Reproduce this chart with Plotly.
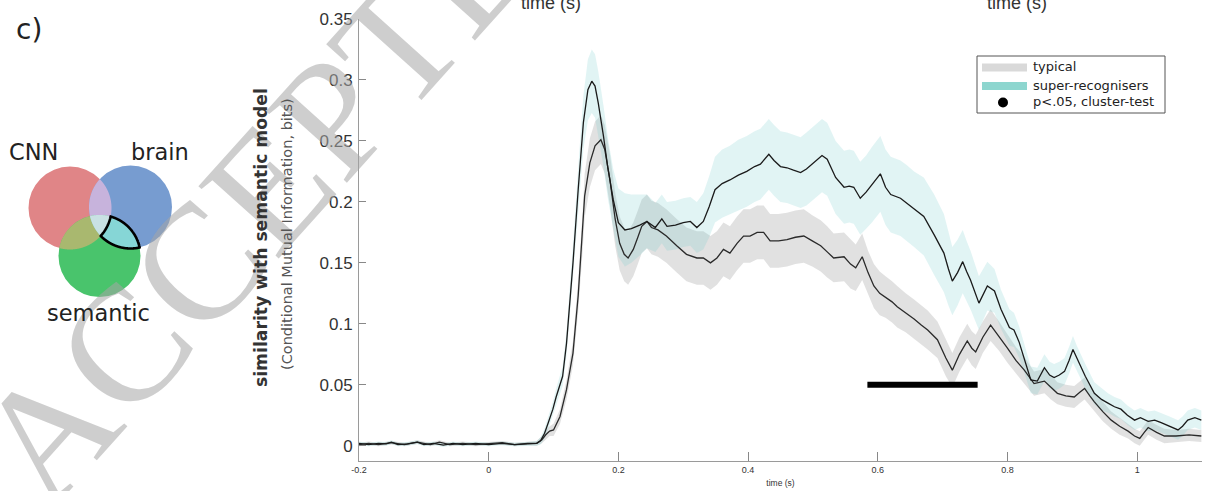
import numpy as np
import plotly.graph_objects as go

# ---------------- data ----------------
sr_time = [-0.200, -0.185, -0.170, -0.158, -0.150, -0.140, -0.125, -0.110, -0.100, -0.085,
           -0.070, -0.055, -0.040, -0.020, 0.000, 0.020, 0.040, 0.060, 0.074, 0.080,
           0.086, 0.092, 0.099, 0.104, 0.114, 0.120, 0.125, 0.130, 0.138, 0.146,
           0.153, 0.159, 0.164, 0.169, 0.177, 0.184, 0.192, 0.200, 0.210, 0.220,
           0.233, 0.244, 0.257, 0.267, 0.275, 0.288, 0.300, 0.311, 0.321, 0.331,
           0.340, 0.349, 0.360, 0.372, 0.385, 0.398, 0.410, 0.419, 0.432, 0.440,
           0.450, 0.460, 0.470, 0.481, 0.490, 0.501, 0.514, 0.522, 0.535, 0.548,
           0.556, 0.563, 0.573, 0.582, 0.591, 0.604, 0.612, 0.620, 0.635, 0.645,
           0.656, 0.671, 0.687, 0.702, 0.709, 0.715, 0.723, 0.731, 0.737, 0.743,
           0.756, 0.769, 0.780, 0.790, 0.803, 0.810, 0.818, 0.826, 0.836, 0.846,
           0.857, 0.865, 0.872, 0.880, 0.888, 0.895, 0.901, 0.907, 0.913, 0.920,
           0.934, 0.945, 0.955, 0.965, 0.975, 0.985, 0.996, 1.005, 1.017, 1.027,
           1.037, 1.050, 1.063, 1.070, 1.078, 1.089, 1.099]
sr_mean = [0.0020, 0.0010, 0.0020, 0.0015, 0.0030, 0.0010, 0.0015, 0.0030, 0.0010, 0.0020,
           0.0005, 0.0020, 0.0010, 0.0020, 0.0010, 0.0020, 0.0010, 0.0015, 0.0020, 0.0040,
           0.0100, 0.0190, 0.0300, 0.0400, 0.0570, 0.0840, 0.1150, 0.1500, 0.2100, 0.2650,
           0.2920, 0.2990, 0.2950, 0.2810, 0.2540, 0.2270, 0.2020, 0.1830, 0.1770, 0.1780,
           0.1810, 0.1840, 0.1790, 0.1860, 0.1800, 0.1810, 0.1830, 0.1840, 0.1790, 0.1840,
           0.1960, 0.2100, 0.2150, 0.2180, 0.2220, 0.2250, 0.2290, 0.2310, 0.2390, 0.2340,
           0.2290, 0.2280, 0.2260, 0.2240, 0.2270, 0.2320, 0.2380, 0.2350, 0.2200, 0.2120,
           0.2130, 0.2120, 0.2030, 0.2080, 0.2140, 0.2230, 0.2120, 0.2060, 0.2030, 0.1990,
           0.1940, 0.1880, 0.1730, 0.1580, 0.1450, 0.1350, 0.1420, 0.1510, 0.1430, 0.1360,
           0.1170, 0.1310, 0.1270, 0.1120, 0.0970, 0.0950, 0.0850, 0.0720, 0.0540, 0.0530,
           0.0640, 0.0580, 0.0560, 0.0580, 0.0610, 0.0700, 0.0790, 0.0720, 0.0650, 0.0570,
           0.0430, 0.0380, 0.0350, 0.0320, 0.0300, 0.0250, 0.0210, 0.0230, 0.0200, 0.0210,
           0.0190, 0.0160, 0.0130, 0.0160, 0.0210, 0.0230, 0.0210]
sr_sem = [0.0015, 0.0015, 0.0015, 0.0015, 0.0015, 0.0015, 0.0015, 0.0015, 0.0015, 0.0015,
          0.0015, 0.0015, 0.0015, 0.0015, 0.0015, 0.0015, 0.0015, 0.0015, 0.002, 0.003,
          0.004, 0.005, 0.006, 0.007, 0.008, 0.010, 0.012, 0.015, 0.018, 0.022,
          0.025, 0.026, 0.026, 0.026, 0.025, 0.025, 0.025, 0.028, 0.030, 0.028,
          0.025, 0.022, 0.020, 0.020, 0.020, 0.020, 0.020, 0.020, 0.021, 0.023,
          0.025, 0.027, 0.028, 0.028, 0.029, 0.029, 0.029, 0.029, 0.029, 0.029,
          0.029, 0.029, 0.029, 0.029, 0.030, 0.030, 0.030, 0.030, 0.030, 0.030,
          0.030, 0.030, 0.030, 0.030, 0.031, 0.031, 0.031, 0.031, 0.031, 0.031,
          0.031, 0.032, 0.033, 0.032, 0.030, 0.028, 0.027, 0.026, 0.025, 0.024,
          0.022, 0.020, 0.018, 0.016, 0.015, 0.014, 0.013, 0.012, 0.011, 0.011,
          0.011, 0.011, 0.011, 0.011, 0.011, 0.011, 0.011, 0.010, 0.010, 0.010,
          0.009, 0.009, 0.008, 0.008, 0.008, 0.008, 0.008, 0.008, 0.008, 0.008,
          0.008, 0.008, 0.008, 0.008, 0.008, 0.008, 0.008]

typ_time = [-0.200, -0.185, -0.170, -0.150, -0.130, -0.110, -0.090, -0.076, -0.060, -0.040,
            -0.020, 0.000, 0.021, 0.040, 0.060, 0.074, 0.082, 0.088, 0.094, 0.100,
            0.110, 0.120, 0.130, 0.138, 0.145, 0.148, 0.156, 0.164, 0.173, 0.179,
            0.187, 0.195, 0.202, 0.209, 0.215, 0.223, 0.230, 0.236, 0.244, 0.251,
            0.261, 0.274, 0.290, 0.305, 0.321, 0.331, 0.342, 0.352, 0.362, 0.372,
            0.383, 0.393, 0.403, 0.414, 0.424, 0.434, 0.447, 0.460, 0.473, 0.486,
            0.499, 0.512, 0.522, 0.532, 0.548, 0.558, 0.566, 0.576, 0.585, 0.594,
            0.603, 0.612, 0.622, 0.630, 0.643, 0.656, 0.667, 0.677, 0.692, 0.705,
            0.715, 0.726, 0.738, 0.745, 0.751, 0.762, 0.774, 0.787, 0.800, 0.813,
            0.826, 0.841, 0.857, 0.867, 0.877, 0.890, 0.903, 0.912, 0.919, 0.927,
            0.934, 0.947, 0.960, 0.973, 0.986, 0.996, 1.004, 1.011, 1.017, 1.030,
            1.042, 1.060, 1.080, 1.099]
typ_mean = [0.0010, 0.0020, 0.0010, 0.0025, 0.0010, 0.0030, 0.0010, 0.0030, 0.0010, 0.0020,
            0.0010, 0.0020, 0.0025, 0.0010, 0.0020, 0.0020, 0.0050, 0.0090, 0.0120, 0.0130,
            0.0240, 0.0460, 0.0760, 0.1230, 0.1770, 0.2050, 0.2320, 0.2460, 0.2510, 0.2430,
            0.2180, 0.1860, 0.1660, 0.1570, 0.1540, 0.1610, 0.1710, 0.1800, 0.1840, 0.1790,
            0.1770, 0.1720, 0.1640, 0.1570, 0.1540, 0.1540, 0.1500, 0.1540, 0.1610, 0.1580,
            0.1660, 0.1720, 0.1720, 0.1750, 0.1750, 0.1680, 0.1680, 0.1690, 0.1710, 0.1720,
            0.1680, 0.1640, 0.1590, 0.1540, 0.1550, 0.1490, 0.1460, 0.1550, 0.1420, 0.1310,
            0.1250, 0.1220, 0.1180, 0.1140, 0.1090, 0.1040, 0.0990, 0.0950, 0.0870, 0.0720,
            0.0620, 0.0750, 0.0860, 0.0800, 0.0770, 0.0890, 0.0990, 0.0900, 0.0800, 0.0700,
            0.0620, 0.0510, 0.0530, 0.0480, 0.0430, 0.0410, 0.0400, 0.0440, 0.0470, 0.0410,
            0.0360, 0.0280, 0.0210, 0.0160, 0.0120, 0.0080, 0.0060, 0.0110, 0.0150, 0.0110,
            0.0080, 0.0080, 0.0090, 0.0080]
typ_sem = [0.0015, 0.0015, 0.0015, 0.0015, 0.0015, 0.0015, 0.0015, 0.0015, 0.0015, 0.0015,
           0.0015, 0.0015, 0.0015, 0.0015, 0.0015, 0.002, 0.003, 0.004, 0.004, 0.005,
           0.006, 0.008, 0.010, 0.013, 0.016, 0.018, 0.020, 0.020, 0.020, 0.020,
           0.021, 0.022, 0.022, 0.022, 0.022, 0.022, 0.022, 0.022, 0.022, 0.022,
           0.022, 0.022, 0.022, 0.022, 0.022, 0.022, 0.022, 0.022, 0.022, 0.022,
           0.022, 0.022, 0.022, 0.022, 0.022, 0.022, 0.022, 0.022, 0.022, 0.022,
           0.021, 0.021, 0.021, 0.020, 0.020, 0.020, 0.019, 0.019, 0.018, 0.018,
           0.018, 0.017, 0.017, 0.017, 0.016, 0.016, 0.016, 0.016, 0.015, 0.015,
           0.014, 0.014, 0.014, 0.014, 0.014, 0.013, 0.013, 0.012, 0.012, 0.011,
           0.011, 0.010, 0.010, 0.010, 0.009, 0.009, 0.009, 0.009, 0.009, 0.008,
           0.008, 0.008, 0.007, 0.007, 0.006, 0.006, 0.006, 0.006, 0.006, 0.006,
           0.006, 0.005, 0.005, 0.005]

# significant cluster (p<.05)
sig_time = [0.584, 0.754]
sig_level = [0.05, 0.05]

x_ticks = [-0.2, 0, 0.2, 0.4, 0.6, 0.8, 1]
x_ticktext = ["-0.2", "0", "0.2", "0.4", "0.6", "0.8", "1"]
y_ticks = [0, 0.05, 0.1, 0.15, 0.2, 0.25, 0.3, 0.35]
y_ticktext = ["0", "0.05", "0.1", "0.15", "0.2", "0.25", "0.3", "0.35"]

legend_names = ["typical", "super-recognisers", "p<.05, cluster-test"]
legend_colors = ["#d9d9d9", "#8dd6cf", "black"]
venn_labels = ["CNN", "brain", "semantic"]

# ---------------- layout geometry (page pixels) ----------------
W, H = 1206, 491
PLOT_L, PLOT_R, PLOT_T, PLOT_B = 359, 1202, 19, 461
ML, MR, MT, MB = PLOT_L, W - PLOT_R, PLOT_T, H - PLOT_B
PW, PH = W - ML - MR, H - MT - MB


def px(x):  # page x -> paper
    return (x - PLOT_L) / PW


def py(y):  # page y -> paper
    return (PLOT_B - y) / PH


fig = go.Figure()


def band(t, m, s, color):
    t = np.array(t); m = np.array(m); s = np.array(s)
    xs = np.concatenate([t, t[::-1]])
    ys = np.concatenate([m + s, (m - s)[::-1]])
    fig.add_trace(go.Scatter(x=xs, y=ys, fill="toself", fillcolor=color,
                             line=dict(width=0), mode="lines", hoverinfo="skip",
                             showlegend=False))


band(typ_time, typ_mean, typ_sem, "rgba(165,165,165,0.33)")
band(sr_time, sr_mean, sr_sem, "rgba(120,205,205,0.22)")

fig.add_trace(go.Scatter(x=typ_time, y=typ_mean, mode="lines", name=legend_names[0],
                         line=dict(color="#2a2a2a", width=1.3), showlegend=False))
fig.add_trace(go.Scatter(x=sr_time, y=sr_mean, mode="lines", name=legend_names[1],
                         line=dict(color="#1a1a1a", width=1.3), showlegend=False))
fig.add_trace(go.Scatter(x=sig_time, y=sig_level, mode="lines", name=legend_names[2],
                         line=dict(color="black", width=6), showlegend=False))

# ---------------- Venn diagram (illustration) ----------------
circles = {
    "red": ((70.0, 208.0), 41.5),
    "blue": ((130.5, 207.0), 41.5),
    "green": ((99.5, 256.0), 41.0),
}


def inside(p, c, tol=1e-6):
    (cx, cy), r = circles[c]
    return (p[0] - cx) ** 2 + (p[1] - cy) ** 2 <= r * r + tol


def region(ins, outs=()):
    pts = []
    allc = list(ins) + list(outs)
    for c in allc:
        (cx, cy), r = circles[c]
        for a in np.linspace(0, 2 * np.pi, 1440, endpoint=False):
            p = (cx + r * np.cos(a), cy + r * np.sin(a))
            ok = all(inside(p, o, 1e-3) for o in ins if o != c)
            ok = ok and all(not inside(p, o, -1e-3) for o in outs if o != c)
            if ok:
                pts.append(p)
    pts = np.array(pts)
    cen = pts.mean(axis=0)
    ang = np.arctan2(pts[:, 1] - cen[1], pts[:, 0] - cen[0])
    pts = pts[np.argsort(ang)]
    return pts


def path_of(pts):
    return "M " + " L ".join(f"{px(x):.5f},{py(y):.5f}" for x, y in pts) + " Z"


shapes = []
for name, col in [("red", "#e08587"), ("blue", "#779cd0"), ("green", "#49c46c")]:
    (cx, cy), r = circles[name]
    shapes.append(dict(type="circle", xref="paper", yref="paper",
                       x0=px(cx - r), x1=px(cx + r), y0=py(cy + r), y1=py(cy - r),
                       fillcolor=col, line=dict(width=0), layer="above"))
for ins, col in [(("red", "blue"), "#c7b3dc"), (("red", "green"), "#a9b86f"),
                 (("blue", "green"), "#86d6d6"), (("red", "blue", "green"), "#c9e1e3")]:
    shapes.append(dict(type="path", xref="paper", yref="paper", path=path_of(region(ins)),
                       fillcolor=col, line=dict(width=0), layer="above"))
shapes.append(dict(type="path", xref="paper", yref="paper",
                   path=path_of(region(("blue", "green"), ("red",))),
                   fillcolor="rgba(0,0,0,0)", line=dict(color="black", width=2.6),
                   layer="above"))

# ---------------- legend box (drawn like the MATLAB legend) ----------------
LB = dict(x0=977, x1=1165, y0=56, y1=113)
row_y = [67.5, 86, 102.5]
shapes.append(dict(type="rect", xref="paper", yref="paper",
                   x0=px(LB["x0"]), x1=px(LB["x1"]), y0=py(LB["y1"]), y1=py(LB["y0"]),
                   fillcolor="white", line=dict(color="#555", width=1), layer="above"))
for i in range(2):
    shapes.append(dict(type="line", xref="paper", yref="paper",
                       x0=px(982), x1=px(1027), y0=py(row_y[i]), y1=py(row_y[i]),
                       line=dict(color=legend_colors[i], width=8), layer="above"))
shapes.append(dict(type="circle", xref="paper", yref="paper",
                   x0=px(998), x1=px(1008), y0=py(row_y[2] + 5), y1=py(row_y[2] - 5),
                   fillcolor="black", line=dict(width=0), layer="above"))

# ---------------- annotations ----------------
C = dict(xref="paper", yref="paper", showarrow=False, xanchor="center", yanchor="middle")
ann = []
ann.append(dict(text="ACCEPTED", x=px(292), y=py(160), textangle=-48,
                font=dict(family="Liberation Serif", size=165, color="rgba(165,165,165,0.55)"), **C))
ann.append(dict(text="c)", x=px(29), y=py(29),
                font=dict(family="DejaVu Sans", size=28, color="#222"), **C))
for lab, (xx, yy) in zip(venn_labels, [(33, 152), (160, 152), (98, 313)]):
    ann.append(dict(text=lab, x=px(xx), y=py(yy),
                    font=dict(family="DejaVu Sans", size=22.5, color="#222"), **C))
ann.append(dict(text="<b>similarity with semantic model</b>", x=px(261), y=py(238),
                textangle=-90, font=dict(family="DejaVu Sans", size=17.2, color="#333"), **C))
ann.append(dict(text="(Conditional Mutual Information, bits)", x=px(287), y=py(234),
                textangle=-90, font=dict(family="DejaVu Sans", size=14.5, color="#555"), **C))
for xx in (551, 1017):
    ann.append(dict(text="time (s)", x=px(xx), y=py(3.5),
                    font=dict(family="Liberation Sans", size=18, color="#333"), **C))
for name, yy in zip(legend_names, row_y):
    ann.append(dict(text=name, x=px(1031), y=py(yy - 1), xref="paper", yref="paper",
                    showarrow=False, xanchor="left", yanchor="middle",
                    font=dict(family="DejaVu Sans", size=13, color="#222")))

fig.update_layout(
    width=W, height=H,
    margin=dict(l=ML, r=MR, t=MT, b=MB, autoexpand=False),
    paper_bgcolor="white", plot_bgcolor="white",
    shapes=shapes, annotations=ann,
    showlegend=False,
    xaxis=dict(range=[-0.2, 1.1], tickmode="array", tickvals=x_ticks, ticktext=x_ticktext,
               ticks="inside", ticklen=9, tickcolor="#888", tickwidth=1, automargin=False,
               showline=True, linecolor="#9a9a9a", linewidth=1,
               showgrid=False, zeroline=False,
               tickfont=dict(family="Liberation Sans", size=9, color="#333"),
               title=dict(text="time (s)", standoff=6,
                          font=dict(family="Liberation Sans", size=8.5, color="#333"))),
    yaxis=dict(range=[-0.0125, 0.35], tickmode="array", tickvals=y_ticks, ticktext=y_ticktext,
               ticks="inside", ticklen=7, tickcolor="#888", tickwidth=1, automargin=False,
               showline=True, linecolor="#9a9a9a", linewidth=1,
               showgrid=False, zeroline=False, ticklabelstandoff=2,
               tickfont=dict(family="Liberation Sans", size=17, color="#333")),
)

fig.write_html("out.html", config={"displayModeBar": False},
               post_script="document.body.style.margin='0px';document.body.style.overflow='hidden';")
